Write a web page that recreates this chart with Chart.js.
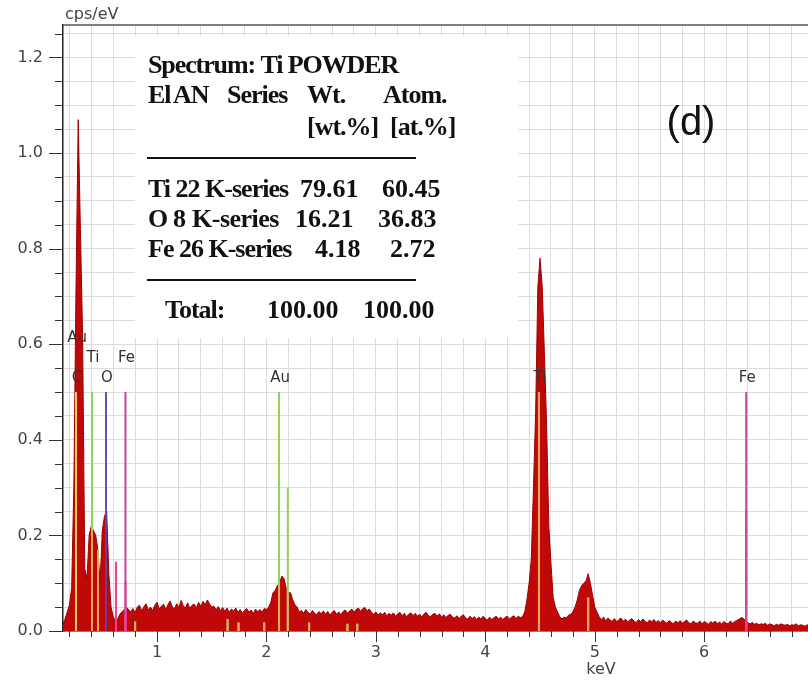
<!DOCTYPE html>
<html>
<head>
<meta charset="utf-8">
<script src="https://cdn.jsdelivr.net/npm/chart.js@4.4.0/dist/chart.umd.min.js"></script>
<style>
  html, body { margin: 0; padding: 0; background: #fff; overflow: hidden; }
  #wrap { position: relative; width: 841px; height: 682px; }
</style>
</head>
<body>
<div id="wrap"><canvas id="eds"></canvas></div>
<script>
// spectrum: one value per 20 eV channel (cps/eV)
const channelStart = 0.14;
const channelWidth = 0.02;
const counts = [
  0.015, 0.025, 0.04, 0.055, 0.09, 0.30, 0.72, 1.07, 0.84, 0.62,      // 0.14
  0.13, 0.11, 0.20, 0.22, 0.21, 0.20, 0.17, 0.10, 0.21, 0.24,         // 0.34
  0.25, 0.12, 0.05, 0.03, 0.02, 0.025, 0.035, 0.04, 0.045, 0.05,      // 0.54
  0.045, 0.04, 0.047, 0.038, 0.05, 0.054, 0.042, 0.051, 0.057, 0.044, // 0.74
  0.05, 0.043, 0.054, 0.06, 0.046, 0.052, 0.056, 0.045, 0.055, 0.063, // 0.94
  0.05, 0.047, 0.057, 0.049, 0.064, 0.053, 0.048, 0.059, 0.047, 0.054, // 1.14
  0.056, 0.049, 0.06, 0.051, 0.062, 0.055, 0.065, 0.057, 0.05, 0.052, // 1.34
  0.044, 0.051, 0.042, 0.049, 0.041, 0.048, 0.039, 0.046, 0.042, 0.048, // 1.54
  0.039, 0.045, 0.037, 0.043, 0.047, 0.039, 0.044, 0.036, 0.046, 0.04, // 1.74
  0.045, 0.039, 0.047, 0.045, 0.05, 0.06, 0.08, 0.085, 0.095, 0.10,   // 1.94
  0.115, 0.11, 0.09, 0.08, 0.08, 0.065, 0.055, 0.05, 0.04, 0.043,     // 2.14
  0.037, 0.045, 0.039, 0.035, 0.043, 0.037, 0.034, 0.041, 0.036, 0.042, // 2.34
  0.035, 0.041, 0.033, 0.039, 0.043, 0.035, 0.04, 0.034, 0.041, 0.044, // 2.54
  0.037, 0.042, 0.046, 0.039, 0.045, 0.048, 0.041, 0.047, 0.049, 0.042, // 2.74
  0.046, 0.039, 0.035, 0.04, 0.033, 0.038, 0.034, 0.039, 0.032, 0.037, // 2.94
  0.033, 0.038, 0.031, 0.036, 0.039, 0.032, 0.037, 0.03, 0.035, 0.038, // 3.14
  0.032, 0.037, 0.031, 0.035, 0.029, 0.036, 0.039, 0.032, 0.03, 0.035, // 3.34
  0.037, 0.031, 0.036, 0.029, 0.034, 0.028, 0.033, 0.035, 0.029, 0.027, // 3.54
  0.032, 0.026, 0.031, 0.034, 0.027, 0.025, 0.031, 0.026, 0.03, 0.024, // 3.74
  0.029, 0.025, 0.031, 0.026, 0.023, 0.029, 0.024, 0.028, 0.031, 0.025, // 3.94
  0.029, 0.024, 0.028, 0.031, 0.025, 0.029, 0.032, 0.026, 0.031, 0.028, // 4.14
  0.03, 0.04, 0.065, 0.10, 0.15, 0.30, 0.46, 0.72, 0.78, 0.72,        // 4.34
  0.58, 0.43, 0.22, 0.14, 0.07, 0.05, 0.04, 0.03, 0.025, 0.029,       // 4.54
  0.027, 0.033, 0.035, 0.04, 0.05, 0.065, 0.085, 0.095, 0.10, 0.105,  // 4.74
  0.12, 0.10, 0.075, 0.05, 0.04, 0.03, 0.024, 0.029, 0.021, 0.027,    // 4.94
  0.023, 0.02, 0.026, 0.019, 0.024, 0.027, 0.02, 0.025, 0.019, 0.023, // 5.14
  0.026, 0.02, 0.018, 0.024, 0.019, 0.025, 0.02, 0.017, 0.023, 0.019, // 5.34
  0.024, 0.018, 0.022, 0.017, 0.023, 0.019, 0.016, 0.022, 0.018, 0.015, // 5.54
  0.021, 0.017, 0.022, 0.016, 0.02, 0.023, 0.017, 0.015, 0.021, 0.017, // 5.74
  0.016, 0.021, 0.015, 0.02, 0.017, 0.014, 0.02, 0.016, 0.021, 0.015, // 5.94
  0.019, 0.014, 0.02, 0.016, 0.015, 0.021, 0.016, 0.02, 0.022, 0.025, // 6.14
  0.028, 0.026, 0.02, 0.017, 0.015, 0.018, 0.014, 0.016, 0.013, 0.015, // 6.34
  0.014, 0.016, 0.012, 0.015, 0.013, 0.011, 0.014, 0.012, 0.015, 0.013, // 6.54
  0.012, 0.014, 0.011, 0.013, 0.012, 0.015, 0.011, 0.013, 0.012, 0.01, // 6.74
  0.013, 0.011, 0.012, 0.01, 0.012, 0.011, 0.013, 0.01, 0.012, 0.011   // 6.94
];

// element marker lines (keV, height in cps/eV)
const tiAuLineE = [0.406, 0.461, 0.80, 1.645, 1.745, 1.98, 2.115, 2.195, 2.39, 2.74, 2.83, 4.49, 4.94];
const tiAuLineH = [0.5, 0.17, 0.02, 0.025, 0.018, 0.018, 0.5, 0.30, 0.018, 0.015, 0.015, 0.5, 0.07];
const carbonLineE = [0.26];
const carbonLineH = [0.5];
const oxygenLineE = [0.534];
const oxygenLineH = [0.5];
const ironLineE = [0.712, 6.384];
const ironLineH = [0.5, 0.5];
const ironStrongE = [0.625, 0.712, 6.384];
const ironStrongH = [0.145, 0.105, 0.255];

// marker labels
const labelText = ['Au', 'Ti', 'Fe', 'C', 'O', 'Au', 'Ti', 'Fe'];
const labelE = [0.26, 0.406, 0.712, 0.26, 0.534, 2.115, 4.49, 6.384];
const labelTier = [2, 1, 1, 0, 0, 0, 0, 0];

// quantification table
const tableRows = [
  ['Ti 22 K-series', '79.61', '60.45'],
  ['O  8  K-series', '16.21', '36.83'],
  ['Fe 26 K-series', '4.18', '2.72']
];
const totals = ['100.00', '100.00'];

const spectrum = counts.map((c, i) => ({ x: +(channelStart + i * channelWidth).toFixed(2), y: c }));

function markerPoints(es, hs) {
  const pts = [];
  es.forEach((e, i) => { pts.push({ x: e, y: 0 }, { x: e, y: hs[i] }, { x: e, y: null }); });
  return pts;
}

function markerSet(es, hs, colour, inside) {
  return {
    data: markerPoints(es, hs),
    borderColor: colour,
    insideColour: inside,
    borderWidth: 2,
    pointRadius: 0,
    fill: false,
    spanGaps: false,
    order: 1
  };
}

// redraw the part of each marker that sits inside the red fill
const insideColour = {
  id: 'insideColour',
  afterDatasetsDraw(chart) {
    const { ctx, chartArea: a, scales: { y } } = chart;
    const pts = chart.getDatasetMeta(chart.data.datasets.length - 1).data;
    const base = y.getPixelForValue(0);
    ctx.save();
    ctx.beginPath();
    ctx.rect(a.left, a.top, a.width, a.height);
    ctx.clip();
    ctx.beginPath();
    ctx.moveTo(pts[0].x, base);
    pts.forEach(p => ctx.lineTo(p.x, p.y));
    ctx.lineTo(pts[pts.length - 1].x, base);
    ctx.closePath();
    ctx.clip();
    ctx.lineWidth = 2;
    chart.data.datasets.forEach((ds, i) => {
      if (!ds.insideColour) return;
      const d = chart.getDatasetMeta(i).data;
      ctx.strokeStyle = ds.insideColour;
      for (let j = 0; j + 1 < d.length; j += 3) {
        ctx.beginPath();
        ctx.moveTo(d[j].x, d[j].y);
        ctx.lineTo(d[j + 1].x, d[j + 1].y);
        ctx.stroke();
      }
    });
    ctx.restore();
  }
};

// white table panel and its text, drawn over the grid
const tablePanel = {
  id: 'tablePanel',
  beforeDatasetsDraw(chart) {
    const ctx = chart.ctx;
    ctx.save();
    ctx.fillStyle = '#fff';
    ctx.fillRect(135, 36, 383, 302);
    ctx.fillStyle = '#111';
    ctx.font = 'bold 26px "Liberation Serif", serif';
    ctx.textAlign = 'left';
    ctx.textBaseline = 'alphabetic';
    const put = (t, x, yb, ls) => { ctx.letterSpacing = ls || '0px'; ctx.fillText(t, x, yb); };
    put('Spectrum: Ti POWDER', 148, 73, '-1.1px');
    put('El', 148, 103, '-1px');
    put('AN', 173, 103, '-1px');
    put('Series', 227, 103, '-1px');
    put('Wt.', 307, 103, '-1px');
    put('Atom.', 383, 103, '-1px');
    put('[wt.%]', 307, 135, '-1px');
    put('[at.%]', 390, 135, '-1px');
    const rowY = [197, 227, 257];
    const wtX = [300, 295, 315];
    const atX = [382, 378, 390];
    tableRows.forEach((r, i) => {
      if (i === 1) {
        const parts = r[0].split(/\s+/);
        put(parts[0], 148, rowY[i]);
        put(parts[1], 173, rowY[i]);
        put(parts[2], 192, rowY[i], '-0.5px');
      } else {
        put(r[0], 148, rowY[i], '-1px');
      }
      put(r[1], wtX[i], rowY[i]);
      put(r[2], atX[i], rowY[i]);
    });
    put('Total:', 165, 318, '-1px');
    put(totals[0], 267, 318);
    put(totals[1], 363, 318);
    ctx.letterSpacing = '0px';
    ctx.fillRect(147, 157, 269, 2);
    ctx.fillRect(147, 279, 269, 2);
    ctx.restore();
  }
};

// tick marks, frame, axis titles, marker labels, panel letter
const decorations = {
  id: 'decorations',
  afterDraw(chart) {
    const { ctx, chartArea: a, scales: { x, y } } = chart;
    ctx.save();
    ctx.strokeStyle = '#333';
    ctx.lineWidth = 1;
    y.ticks.forEach(t => {
      const py = Math.round(y.getPixelForValue(t.value)) + 0.5;
      const len = t.label ? 14 : 8;
      ctx.beginPath(); ctx.moveTo(a.left - len, py); ctx.lineTo(a.left, py); ctx.stroke();
    });
    x.ticks.forEach(t => {
      const px = Math.round(x.getPixelForValue(t.value)) + 0.5;
      const len = t.label ? 11 : 6;
      ctx.beginPath(); ctx.moveTo(px, a.bottom); ctx.lineTo(px, a.bottom + len); ctx.stroke();
    });
    ctx.strokeStyle = '#555';
    ctx.lineWidth = 1.5;
    ctx.beginPath(); ctx.moveTo(a.left, a.top); ctx.lineTo(a.right, a.top); ctx.stroke();

    ctx.fillStyle = '#444';
    ctx.font = '16px "DejaVu Sans", sans-serif';
    ctx.textBaseline = 'middle';
    ctx.textAlign = 'left';
    ctx.fillText('cps/eV', 65, 15);
    ctx.textAlign = 'center';
    ctx.fillText('keV', 601, 670);

    ctx.fillStyle = '#333';
    ctx.font = '15px "DejaVu Sans", sans-serif';
    labelText.forEach((t, i) => {
      const px = x.getPixelForValue(labelE[i]);
      const py = y.getPixelForValue(0.5) - 14 - 20 * labelTier[i];
      ctx.fillText(t, px + 1, py);
    });

    ctx.fillStyle = '#111';
    ctx.font = '40px "Liberation Sans", sans-serif';
    ctx.fillText('(d)', 691, 124);
    ctx.restore();
  }
};

Chart.defaults.font.family = '"DejaVu Sans", sans-serif';

new Chart(document.getElementById('eds'), {
  type: 'line',
  data: {
    datasets: [
      markerSet(carbonLineE, carbonLineH, '#e8c84c', '#ecd055'),
      markerSet(tiAuLineE, tiAuLineH, '#8fd35e', '#e8a85a'),
      markerSet(oxygenLineE, oxygenLineH, '#5a52b5', '#6e3a9e'),
      markerSet(ironLineE, ironLineH, '#c0479c', '#d8409a'),
      markerSet(ironStrongE, ironStrongH, '#f2408e', '#f2408e'),
      {
        data: spectrum,
        borderColor: '#9c0000',
        backgroundColor: '#c00808',
        borderWidth: 1,
        pointRadius: 0,
        tension: 0,
        fill: 'origin',
        order: 2
      }
    ]
  },
  options: {
    responsive: true,
    maintainAspectRatio: false,
    animation: false,
    layout: { padding: { left: 0, right: 0, top: 25, bottom: 0 } },
    plugins: { legend: { display: false }, tooltip: { enabled: false } },
    scales: {
      x: {
        type: 'linear',
        min: 0.141,
        max: 7.25,
        grid: { color: '#dcdcdc', drawTicks: false },
        border: { color: '#222', width: 1.5 },
        ticks: {
          stepSize: 0.2,
          includeBounds: false,
          autoSkip: false,
          maxRotation: 0,
          padding: 12,
          color: '#444',
          font: { size: 16 },
          callback: v => Math.abs(v - Math.round(v)) < 1e-6 ? String(Math.round(v)) : ''
        },
        afterFit: s => { s.height = 51; s.paddingLeft = 0; s.paddingRight = 0; }
      },
      y: {
        min: 0,
        max: 1.268,
        grid: { color: '#dcdcdc', drawTicks: false },
        border: { color: '#222', width: 1.5 },
        ticks: {
          stepSize: 0.05,
          includeBounds: false,
          autoSkip: false,
          padding: 20,
          color: '#444',
          font: { size: 16 },
          callback: v => Math.abs(v * 5 - Math.round(v * 5)) < 1e-6 ? v.toFixed(1) : ''
        },
        afterFit: s => { s.width = 63; s.paddingTop = 0; s.paddingBottom = 0; }
      }
    }
  },
  plugins: [tablePanel, insideColour, decorations]
});
</script>
</body>
</html>
